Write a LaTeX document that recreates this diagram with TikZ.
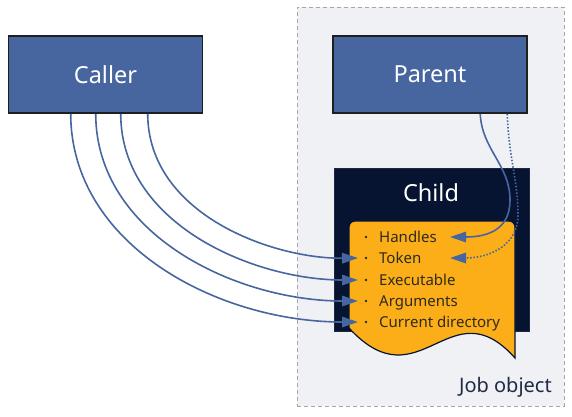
\documentclass[tikz,border=0pt]{standalone}
\usepackage{fontspec}
\setmainfont{Noto Sans}
\usetikzlibrary{arrows.meta}
\definecolor{boxblue}{HTML}{4766A0}
\definecolor{navy}{HTML}{061331}
\definecolor{docorange}{HTML}{FBAE17}
\definecolor{jobbg}{HTML}{F0F1F5}
\definecolor{jobline}{HTML}{A6A6A6}
\definecolor{jobtext}{HTML}{1F2A44}
\definecolor{itemtext}{HTML}{2E2A20}
\definecolor{arrowblue}{HTML}{4766A0}
\tikzset{
  bluebox/.style={draw=black!88, line width=1.6pt, fill=boxblue, text=white,
    minimum width=194pt, minimum height=77pt, inner sep=0pt,
    font=\fontsize{23.5}{28}\selectfont},
  childbox/.style={draw=navy!80!gray, line width=0.6pt, fill=navy,
    minimum width=195pt, minimum height=163pt, inner sep=0pt},
  jobbox/.style={draw=jobline, fill=jobbg, dash pattern=on 4pt off 3pt, line width=1pt,
    minimum width=267pt, minimum height=399pt, inner sep=0pt},
  listitem/.style={anchor=west, inner sep=0pt, text height=11pt, text depth=0pt,
    text=itemtext, font=\fontsize{15}{18}\selectfont},
  docshape/.style={fill=docorange, draw=navy, line width=1.2pt},
  flow/.style={draw=arrowblue, line width=1.6pt, -{Triangle[length=16pt,width=10.5pt]}},
  dotflow/.style={flow, dash pattern=on 1.5pt off 1.8pt},
}
\begin{document}
\begin{tikzpicture}[x=1pt,y=-1pt]
\useasboundingbox (0,0) rectangle (572,416);
\fill[white] (0,0) rectangle (572,416);
% job object
\node[jobbox] (job) at (430.5,206.5) {};
\node[anchor=base east, inner sep=0pt, text=jobtext, font=\fontsize{20}{24}\selectfont] (joblabel) at (552,392) {Job object};
% boxes
\node[bluebox] (caller) at (105.5,74.5) {Caller};
\node[bluebox] (parent) at (430,74.5) {Parent};
\node[childbox] (child) at (431.5,249.5) {};
\node[text=white, inner sep=0pt, font=\fontsize{23.5}{28}\selectfont] (childlabel) at (431,193) {Child};
% document
\path[docshape] (349,328) [rounded corners=6pt] -- (349,221) -- (515,221) [sharp corners] -- (515,358)
  .. controls (450,285) and (420,405) .. (349,328) -- cycle;
% items
\node[listitem] (handles) at (379,237) {Handles};
\node[listitem] (token) at (379,258) {Token};
\node[listitem] (exe) at (379,280) {Executable};
\node[listitem] (args) at (379,301) {Arguments};
\node[listitem] (cwd) at (379,322) {Current directory};
\foreach \n in {handles,token,exe,args,cwd}{
  \fill[itemtext] ([xshift=-13pt]\n.west) circle (1.4pt);
}
% caller arrows
\draw[flow] ([xshift=140pt]caller.south west) .. controls (148,215) and (274,259) .. ([xshift=-21pt]token.west);
\draw[flow] ([xshift=113pt]caller.south west) .. controls (121,225) and (255,280) .. ([xshift=-21pt]exe.west);
\draw[flow] ([xshift=88pt]caller.south west) .. controls (96,235) and (237,301) .. ([xshift=-21pt]args.west);
\draw[flow] ([xshift=63pt]caller.south west) .. controls (71,245) and (218,322) .. ([xshift=-21pt]cwd.west);
% parent arrows
\draw[flow] ([xshift=148pt]parent.south west) .. controls (482,150) and (510,165) .. (510,200)
  .. controls (510,228) and (490,237) .. ([xshift=71pt]handles.west);
\draw[dotflow] ([xshift=175pt]parent.south west) .. controls (509,160) and (518,180) .. (518,215)
  .. controls (518,245) and (490,258) .. ([xshift=71pt]token.west);
\end{tikzpicture}
\end{document}
